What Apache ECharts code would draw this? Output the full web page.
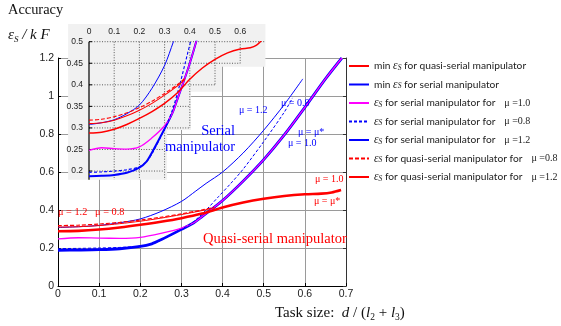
<!DOCTYPE html>
<html><head><meta charset="utf-8">
<script src="https://cdn.jsdelivr.net/npm/echarts@6/dist/echarts.min.js"></script>
<style>html,body{margin:0;padding:0;background:#fff}#c{width:561px;height:326px}</style>
</head><body><div id="c"></div>
<script>
// ---- data ----
const xTicks = [0, 0.1, 0.2, 0.3, 0.4, 0.5, 0.6, 0.7];
const yTicks = [0, 0.2, 0.4, 0.6, 0.8, 1.0, 1.2];

const xQuasiMin = [0, 0.05, 0.1, 0.15, 0.2, 0.25, 0.3, 0.35, 0.4, 0.45, 0.5, 0.55, 0.6, 0.64, 0.665, 0.688];
const yQuasiMin = [0.288, 0.290, 0.297, 0.308, 0.322, 0.338, 0.357, 0.381, 0.413, 0.439, 0.459, 0.474, 0.483, 0.486, 0.492, 0.505];

const xSerialMin = [0, 0.05, 0.1, 0.15, 0.2, 0.228, 0.25, 0.3, 0.33, 0.35, 0.4, 0.45, 0.5, 0.55, 0.6, 0.65, 0.69];
const ySerialMin = [0.188, 0.189, 0.191, 0.196, 0.208, 0.222, 0.243, 0.298, 0.333, 0.365, 0.45, 0.552, 0.665, 0.795, 0.94, 1.09, 1.2];

const xSerial10 = [0, 0.05, 0.1, 0.15, 0.2, 0.25, 0.3, 0.33, 0.35, 0.4, 0.45, 0.5, 0.55, 0.6, 0.65, 0.69];
const ySerial10 = [0.248, 0.254, 0.252, 0.251, 0.256, 0.277, 0.305, 0.333, 0.365, 0.45, 0.552, 0.665, 0.795, 0.94, 1.09, 1.2];

const xSerial08 = [0, 0.05, 0.1, 0.15, 0.2, 0.228, 0.25, 0.3, 0.33, 0.36, 0.39, 0.42, 0.45, 0.5, 0.55, 0.57];
const ySerial08 = [0.197, 0.198, 0.200, 0.203, 0.210, 0.222, 0.240, 0.298, 0.340, 0.400, 0.470, 0.540, 0.615, 0.760, 0.915, 0.990];

const xSerial12 = [0, 0.05, 0.1, 0.15, 0.2, 0.25, 0.3, 0.335, 0.36, 0.4, 0.45, 0.5, 0.55, 0.595];
const ySerial12 = [0.308, 0.312, 0.319, 0.333, 0.353, 0.392, 0.445, 0.500, 0.540, 0.600, 0.700, 0.820, 0.955, 1.090];

const xQuasi08 = [0, 0.05, 0.1, 0.15, 0.2, 0.25, 0.3, 0.35, 0.38];
const yQuasi08 = [0.318, 0.320, 0.326, 0.335, 0.347, 0.362, 0.380, 0.400, 0.415];

const xQuasi12 = [0, 0.05, 0.1, 0.15, 0.2, 0.25, 0.3, 0.35, 0.38];
const yQuasi12 = [0.310, 0.312, 0.318, 0.328, 0.341, 0.357, 0.376, 0.397, 0.412];

// inset (zoomed view) decoration
const insetXTicks = [0, 0.1, 0.2, 0.3, 0.4, 0.5, 0.6];
const insetYTicks = [0.2, 0.25, 0.3, 0.35, 0.4, 0.45, 0.5];
const insetHEnds = [0.3, 0.3, 0.4, 0.4, 0.5, 0.6, 0.7];      // dotted horizontal extents for insetYTicks
const insetVLevels = [0.1, 0.2, 0.3, 0.4, 0.5, 0.6];
const insetVEnds = [0.18, 0.18, 0.18, 0.3, 0.4, 0.45];       // dotted vertical lower ends
const insetShape = [[-0.083,0.541],[0.7,0.541],[0.7,0.442],[0.527,0.442],[0.527,0.384],[0.405,0.384],[0.405,0.295],[0.31,0.295],[0.31,0.18],[-0.083,0.18]];

const names = [
  'min εS for quasi-serial manipulator',
  'min εS for serial manipulator',
  'εS for serial manipulator for μ=1.0',
  'εS for serial manipulator for μ=0.8',
  'εS for serial manipulator for μ=1.2',
  'εS for quasi-serial manipulator for μ=0.8',
  'εS for quasi-serial manipulator for μ=1.2'
];
const legendLabels = {
  [names[0]]: '{t|min }{e|ε}{s|S}{t| for quasi-serial manipulator}',
  [names[1]]: '{t|min }{e|ε}{s|S}{t| for serial manipulator}',
  [names[2]]: '{e|ε}{s|S}{t| for serial manipulator for}{m|μ =1.0}',
  [names[3]]: '{e|ε}{s|S}{t| for serial manipulator for}{m|μ =0.8}',
  [names[4]]: '{e|ε}{s|S}{t| for serial manipulator for}{m|μ =1.2}',
  [names[5]]: '{e|ε}{s|S}{t| for quasi-serial manipulator for}{m|μ =0.8}',
  [names[6]]: '{e|ε}{s|S}{t| for quasi-serial manipulator for}{m|μ =1.2}'
};

const pairs = (xs, ys) => xs.map((x, i) => [x, ys[i]]);
const RED = '#ff0000', BLUE = '#0000ff', MAG = '#ff00ff';

const styles = [
  // [name index, xs, ys, color, mainWidth, insetWidth, dash]
  [1, xSerialMin, ySerialMin, BLUE, 2.8, 2.0, 'solid'],
  [2, xSerial10, ySerial10, MAG, 1.3, 1.3, 'solid'],
  [3, xSerial08, ySerial08, BLUE, 1, 1.1, [3, 2]],
  [4, xSerial12, ySerial12, BLUE, 1, 1, 'solid'],
  [5, xQuasi08, yQuasi08, RED, 1.2, 1.1, [4, 2]],
  [6, xQuasi12, yQuasi12, RED, 1, 1.1, 'solid'],
  [0, xQuasiMin, yQuasiMin, RED, 2.6, 1.5, 'solid']
];

const series = [];
styles.forEach(s => {
  const base = {
    name: names[s[0]], type: 'line', showSymbol: false, symbol: 'none',
    smooth: 0.3, data: pairs(s[1], s[2]), animation: false,
    itemStyle: { color: s[3] }
  };
  series.push(Object.assign({}, base, { xAxisIndex: 0, yAxisIndex: 0, z: 2,
    lineStyle: { color: s[3], width: s[4], type: s[6] } }));
  series.push(Object.assign({}, base, { xAxisIndex: 1, yAxisIndex: 2, z: 6,
    lineStyle: { color: s[3], width: s[5], type: s[6] } }));
});

// inset background and dotted grid
series.push({
  type: 'custom', xAxisIndex: 1, yAxisIndex: 2, z: 4, clip: false, silent: true,
  animation: false, data: [[0, 0.5]],
  renderItem: function (params, api) {
    const ch = [];
    ch.push({ type: 'polygon', shape: { points: insetShape.map(p => api.coord(p)) },
      style: { fill: '#f1f1f1' } });
    const dot = { stroke: '#333', lineWidth: 0.8, lineDash: [1, 1.6] };
    insetYTicks.forEach((y, i) => {
      const a = api.coord([0, y]), b = api.coord([insetHEnds[i], y]);
      ch.push({ type: 'line', shape: { x1: a[0], y1: a[1], x2: b[0], y2: b[1] }, style: dot });
    });
    insetVLevels.forEach((x, i) => {
      const a = api.coord([x, 0.5]), b = api.coord([x, insetVEnds[i]]);
      ch.push({ type: 'line', shape: { x1: a[0], y1: a[1], x2: b[0], y2: b[1] }, style: dot });
    });
    const t = api.coord([0, 0.5]), bt = api.coord([0, 0.18]);
    ch.push({ type: 'line', shape: { x1: t[0], y1: t[1], x2: bt[0], y2: bt[1] }, style: { stroke: '#000', lineWidth: 1.2 } });
    insetYTicks.forEach(y => {
      const a = api.coord([0, y]);
      ch.push({ type: 'line', shape: { x1: a[0], y1: a[1], x2: a[0] + 3, y2: a[1] }, style: { stroke: '#000', lineWidth: 1 } });
    });
    return { type: 'group', children: ch };
  }
});

const serif = 'Liberation Serif';
const sans = 'Liberation Sans';
const option = {
  backgroundColor: '#fff',
  animation: false,
  grid: [
    { left: 58, right: 215, top: 58, bottom: 40, containLabel: false },
    { left: 89, width: 176.4, top: 41.7, height: 150.9, containLabel: false }
  ],
  xAxis: [
    { type: 'value', gridIndex: 0, min: 0, max: 0.7, interval: 0.1, z: 0,
      axisLine: { show: true, lineStyle: { color: '#000', width: 1 } },
      axisTick: { show: true, inside: true, length: 3, lineStyle: { color: '#000' } },
      axisLabel: { color: '#222', fontFamily: sans, fontSize: 10.5, margin: 3 },
      splitLine: { show: true, lineStyle: { color: '#9a9a9a', width: 1 } } },
    { type: 'value', gridIndex: 1, position: 'top', min: 0, max: 0.7, interval: 0.1, z: 8,
      axisLine: { show: false }, axisTick: { show: false }, splitLine: { show: false },
      axisLabel: { color: '#222', fontFamily: sans, fontSize: 8.5, margin: 6,
        formatter: v => (v > 0.65 ? '' : String(v)) } }
  ],
  yAxis: [
    { type: 'value', gridIndex: 0, min: 0, max: 1.2, interval: 0.2, z: 0,
      axisLine: { show: true, lineStyle: { color: '#000', width: 1 } },
      axisTick: { show: true, inside: true, length: 3, lineStyle: { color: '#000' } },
      axisLabel: { color: '#222', fontFamily: sans, fontSize: 10.5, margin: 4 },
      splitLine: { show: true, lineStyle: { color: '#9a9a9a', width: 1 } } },
    { type: 'value', gridIndex: 0, position: 'right', min: 0, max: 1.2, interval: 0.2, z: 0,
      axisLine: { show: true, lineStyle: { color: '#333', width: 1 } },
      axisTick: { show: true, inside: true, length: 3, lineStyle: { color: '#333' } },
      axisLabel: { show: false }, splitLine: { show: false } },
    { type: 'value', gridIndex: 1, min: 0.15, max: 0.5, interval: 0.05, z: 8,
      axisLine: { show: false }, axisTick: { show: false }, splitLine: { show: false },
      axisLabel: { color: '#222', fontFamily: sans, fontSize: 8.5, margin: 6,
        formatter: v => (v < 0.19 ? '' : String(Math.round(v * 100) / 100)) } }
  ],
  legend: {
    data: names, orient: 'vertical', left: 348, top: 60, padding: 0,
    itemWidth: 20, itemHeight: 8, itemGap: 6.5, selectedMode: false,
    itemStyle: { opacity: 0 },
    formatter: n => legendLabels[n],
    textStyle: {
      color: '#222',
      rich: {
        t: { fontFamily: 'Lato', fontSize: 10.2, color: '#222', lineHeight: 12 },
        e: { fontFamily: serif, fontStyle: 'italic', fontSize: 11.5, color: '#222', lineHeight: 12 },
        s: { fontFamily: serif, fontStyle: 'italic', fontSize: 7.5, color: '#222', lineHeight: 12, verticalAlign: 'bottom' },
        m: { fontFamily: serif, fontSize: 10, color: '#222', lineHeight: 12, padding: [0, 0, 0, 9] }
      }
    }
  },
  graphic: [
    { type: 'text', x: 8, y: 10, style: { text: 'Accuracy', font: '14.4px "Liberation Serif"', fill: '#111', verticalAlign: 'middle' } },
    { type: 'text', x: 8, y: 35, style: {
      text: '{e|ε}{s|S}{n| / }{e|k F}', verticalAlign: 'middle',
      rich: { e: { fontFamily: serif, fontStyle: 'italic', fontSize: 15, fill: '#111', lineHeight: 18 },
              s: { fontFamily: serif, fontStyle: 'italic', fontSize: 9, fill: '#111', lineHeight: 18, verticalAlign: 'bottom' },
              n: { fontFamily: serif, fontStyle: 'italic', fontSize: 15, fill: '#111', lineHeight: 18 } } } },
    { type: 'text', x: 275, y: 313, style: {
      text: '{n|Task size:  }{i|d}{n| / (}{i|l}{s|2}{n| + }{i|l}{s|3}{n|)}', verticalAlign: 'middle',
      rich: { n: { fontFamily: serif, fontSize: 15, fill: '#111', lineHeight: 18 },
              i: { fontFamily: serif, fontStyle: 'italic', fontSize: 15, fill: '#111', lineHeight: 18 },
              s: { fontFamily: serif, fontSize: 9.5, fill: '#111', lineHeight: 18, verticalAlign: 'bottom' } } } },
    { type: 'text', x: 58, y: 212, z: 10, style: { text: 'μ = 1.2   μ = 0.8', font: '10.3px "Liberation Serif"', fill: RED, verticalAlign: 'middle' } },
    { type: 'text', x: 203, y: 239, z: 10, style: { text: 'Quasi-serial manipulator', font: '14.5px "Liberation Serif"', fill: RED, verticalAlign: 'middle' } },
    { type: 'text', x: 235, y: 131, z: 10, style: { text: 'Serial', font: '14.5px "Liberation Serif"', fill: BLUE, verticalAlign: 'middle', align: 'right' } },
    { type: 'text', x: 235, y: 147, z: 10, style: { text: 'manipulator', font: '14.5px "Liberation Serif"', fill: BLUE, verticalAlign: 'middle', align: 'right' } },
    { type: 'text', x: 239, y: 110, z: 10, style: { text: 'μ = 1.2', font: '10px "Liberation Serif"', fill: BLUE, verticalAlign: 'middle' } },
    { type: 'text', x: 281, y: 103, z: 10, style: { text: 'μ = 0.8', font: '10px "Liberation Serif"', fill: BLUE, verticalAlign: 'middle' } },
    { type: 'text', x: 298, y: 132, z: 10, style: { text: 'μ = μ*', font: '10px "Liberation Serif"', fill: BLUE, verticalAlign: 'middle' } },
    { type: 'text', x: 288, y: 143, z: 10, style: { text: 'μ = 1.0', font: '10px "Liberation Serif"', fill: BLUE, verticalAlign: 'middle' } },
    { type: 'text', x: 315, y: 179, z: 10, style: { text: 'μ = 1.0', font: '10px "Liberation Serif"', fill: RED, verticalAlign: 'middle' } },
    { type: 'text', x: 314, y: 201, z: 10, style: { text: 'μ = μ*', font: '10px "Liberation Serif"', fill: RED, verticalAlign: 'middle' } }
  ],
  series: series
};
const chart = echarts.init(document.getElementById('c'), null, { renderer: 'canvas' });
chart.setOption(option);
</script></body></html>
